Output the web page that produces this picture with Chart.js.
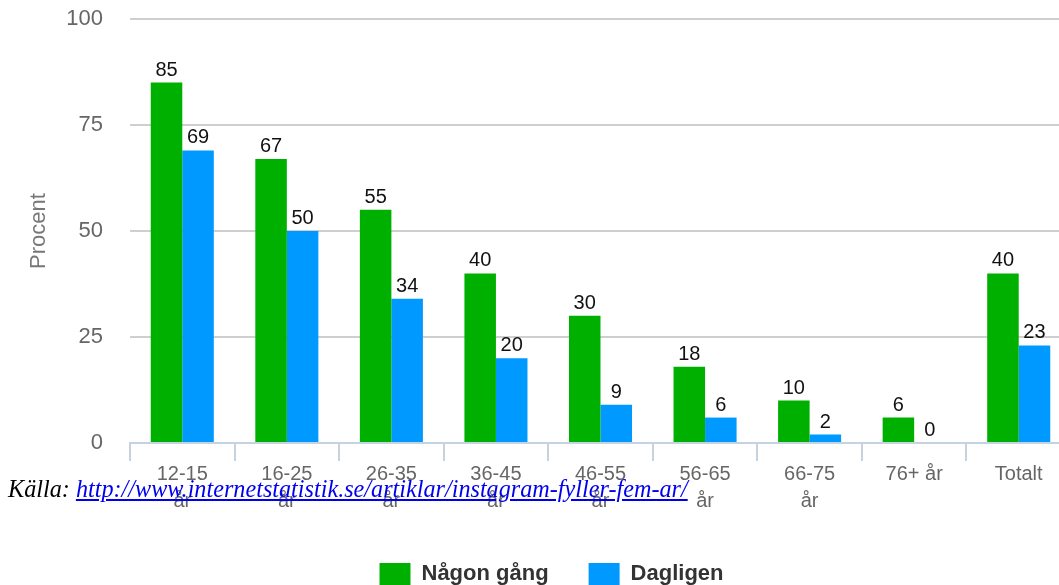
<!DOCTYPE html>
<html>
<head>
<meta charset="utf-8">
<script src="https://cdn.jsdelivr.net/npm/chart.js@4/dist/chart.umd.min.js"></script>
<style>
  html, body { margin: 0; padding: 0; background: #fff; overflow: hidden; }
  #wrap { position: relative; width: 1059px; height: 585px; overflow: hidden; }
  #c { position: absolute; left: 0; top: 0; }
  #src { position: absolute; left: 8px; top: 476px; font-family: "Liberation Serif", "DejaVu Serif", serif; font-style: italic; font-size: 24.2px; line-height: 26px; color: #000; white-space: nowrap; }
  #src a { color: #0000ee; text-decoration: underline; }
</style>
</head>
<body>
<div id="wrap">
  <canvas id="c" width="1071" height="595"></canvas>
  <div id="src">Källa: <a href="http://www.internetstatistik.se/artiklar/instagram-fyller-fem-ar/">http://www.internetstatistik.se/artiklar/instagram-fyller-fem-ar/</a></div>
</div>
<script>
const categories = [["12-15", "år"], ["16-25", "år"], ["26-35", "år"], ["36-45", "år"], ["46-55", "år"], ["56-65", "år"], ["66-75", "år"], "76+ år", "Totalt"];
const seriesNames = ["Någon gång", "Dagligen"];
const nagonGang = [85, 67, 55, 40, 30, 18, 10, 6, 40];
const dagligen = [69, 50, 34, 20, 9, 6, 2, 0, 23];
const yTicks = [0, 25, 50, 75, 100];
const axisTitle = "Procent";

const FONT = "'Liberation Sans', Arial, Helvetica, sans-serif";

const valueLabels = {
  id: 'valueLabels',
  afterDatasetsDraw(chart) {
    const ctx = chart.ctx;
    ctx.save();
    ctx.font = "20px " + FONT;
    ctx.fillStyle = "#111";
    ctx.textAlign = "center";
    ctx.textBaseline = "alphabetic";
    chart.data.datasets.forEach((ds, di) => {
      const meta = chart.getDatasetMeta(di);
      meta.data.forEach((el, i) => {
        ctx.fillText(String(ds.data[i]), el.x, el.y - 7);
      });
    });
    ctx.restore();
  }
};

new Chart(document.getElementById('c'), {
  type: 'bar',
  data: {
    labels: categories,
    datasets: [
      { label: seriesNames[0], data: nagonGang, backgroundColor: '#00b000', borderWidth: 0, categoryPercentage: 0.603, barPercentage: 1.0 },
      { label: seriesNames[1], data: dagligen, backgroundColor: '#0099ff', borderWidth: 0, categoryPercentage: 0.603, barPercentage: 1.0 }
    ]
  },
  options: {
    responsive: false,
    animation: false,
    devicePixelRatio: 1,
    layout: { padding: { left: 32, right: 0, top: 19, bottom: 0 } },
    plugins: {
      legend: {
        position: 'bottom',
        labels: {
          font: { family: FONT, size: 22, weight: 'bold' },
          color: '#333',
          boxWidth: 31,
          boxHeight: 22,
          padding: 40
        }
      },
      tooltip: { enabled: false }
    },
    scales: {
      x: {
        grid: { offset: true, drawOnChartArea: false, drawTicks: true, tickLength: 18, color: '#c5d3e0', lineWidth: 2 },
        border: { display: true, color: '#c5d3e0', width: 2 },
        ticks: { font: { family: FONT, size: 20, lineHeight: 1.35 }, color: '#666', padding: 0, maxRotation: 0, minRotation: 0, autoSkip: false },
        afterFit(scale) { scale.height = 80; }
      },
      y: {
        min: 0, max: 100,
        afterBuildTicks(scale) { scale.ticks = yTicks.map(v => ({ value: v })); },
        grid: { drawTicks: true, tickLength: 27, tickColor: 'rgba(0,0,0,0)', color: (c) => c.tick && c.tick.value === 0 ? 'rgba(0,0,0,0)' : '#cfcfcf', lineWidth: 2 },
        border: { display: false },
        ticks: { font: { family: FONT, size: 22 }, color: '#666', padding: 0 },
        title: { display: true, text: axisTitle, font: { family: FONT, size: 22 }, color: '#777', padding: { top: -6, bottom: 0 } },
        afterFit(scale) { scale.width = 98; }
      }
    }
  },
  plugins: [valueLabels]
});
</script>
</body>
</html>
